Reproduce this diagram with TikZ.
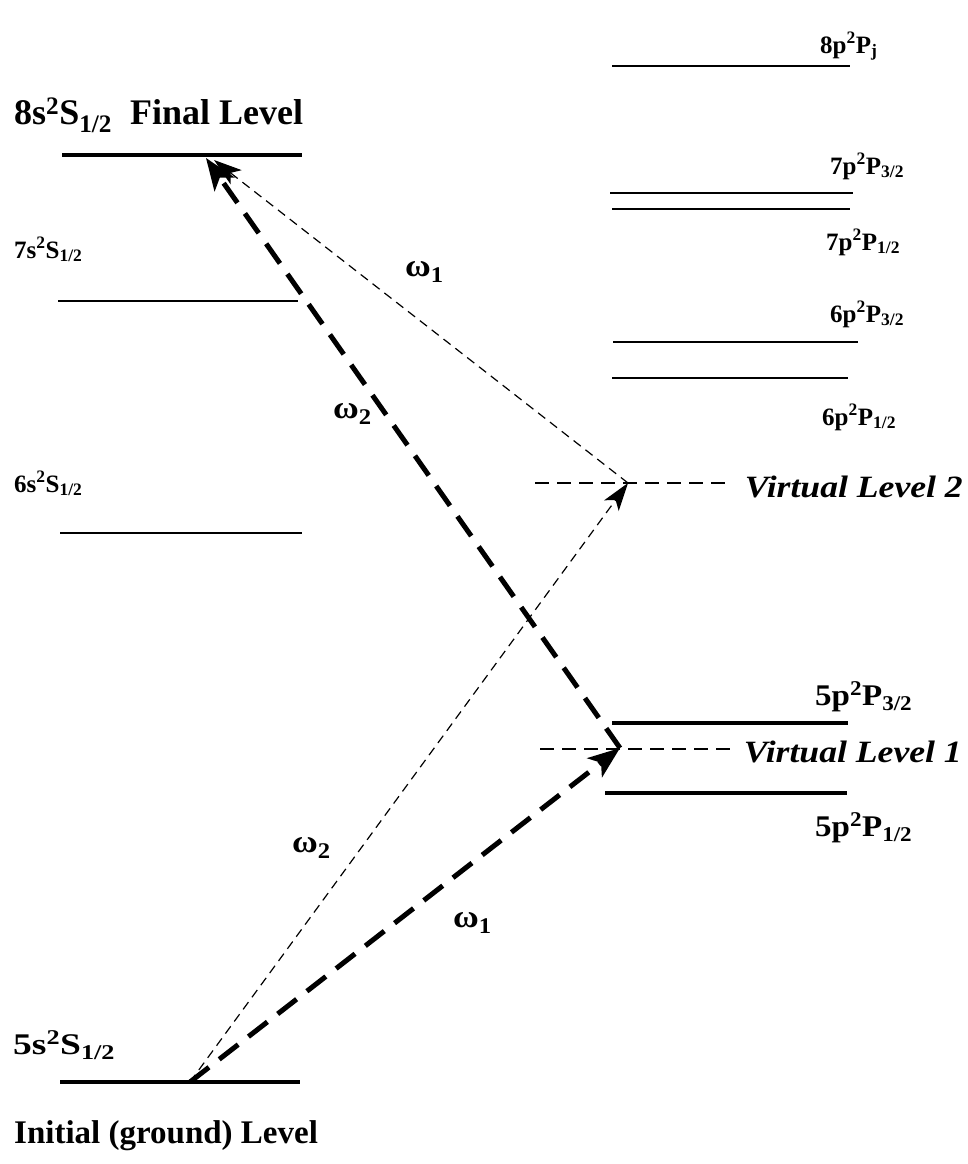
\documentclass[tikz,border=0pt]{standalone}
\usepackage{fontspec}
\setmainfont{Liberation Serif}
\newfontfamily\wideA[FakeStretch=1.25]{Liberation Serif}
\newfontfamily\wideB[FakeStretch=1.1]{Liberation Serif}
\newfontfamily\wideC[FakeStretch=1.15]{Liberation Serif}
\usetikzlibrary{arrows.meta}
\newcommand{\lvl}[4]{#1\textsuperscript{#2}#3\textsubscript{#4}}
\begin{document}
\begin{tikzpicture}[x=1pt,y=-1pt,
  thicklevel/.style={line width=4.5pt},
  thinlevel/.style={line width=1.3pt},
  virt/.style={line width=1.2pt, dash pattern=on 14pt off 8pt},
  bigbeam/.style={line width=5pt, dash pattern=on 24pt off 13pt, -{Stealth[length=32pt,width=24pt,inset=8pt]}},
  smallbeam/.style={line width=1.2pt, dash pattern=on 9pt off 6pt, -{Stealth[length=28pt,width=18pt,inset=7pt]}},
  biglabel/.style={font=\fontsize{36}{40}\selectfont\bfseries, inner sep=0pt},
  initlabel/.style={font=\fontsize{33}{36}\selectfont\bfseries, inner sep=0pt},
  groundlabel/.style={font=\fontsize{30}{33}\selectfont\wideA\bfseries, inner sep=0pt},
  midlabel/.style={font=\fontsize{30}{33}\selectfont\wideB\bfseries, inner sep=0pt},
  smalllabel/.style={font=\fontsize{25}{28}\selectfont\bfseries, inner sep=0pt},
  virtlabel/.style={font=\fontsize{31}{34}\selectfont\wideC\bfseries\itshape, inner sep=0pt},
  omega/.style={font=\fontsize{32}{34}\selectfont\wideB\bfseries, inner sep=0pt}]
\useasboundingbox (0,0) rectangle (968,1164);
% S levels
\draw[thicklevel] (62,155) -- (302,155);
\draw[thinlevel] (58,301) -- (298,301);
\draw[thinlevel] (60,533) -- (302,533);
\draw[thicklevel] (60,1082) -- (300,1082);
% P levels
\draw[thinlevel] (612,66) -- (850,66);
\draw[thinlevel] (610,193) -- (853,193);
\draw[thinlevel] (612,209) -- (850,209);
\draw[thinlevel] (613,342) -- (858,342);
\draw[thinlevel] (612,378) -- (848,378);
\draw[thicklevel] (612,723) -- (848,723);
\draw[thicklevel] (605,793) -- (847,793);
% virtual levels
\draw[virt] (535,483) -- (725,483);
\draw[virt] (540,749) -- (730,749);
% labels
\node[biglabel, anchor=base west] (lf) at (14,124) {\lvl{8s}{2}{S}{1/2}\hspace{0.5em}Final Level};
\node[smalllabel, anchor=base west] (l7s) at (14,258) {\lvl{7s}{2}{S}{1/2}};
\node[smalllabel, anchor=base west] (l6s) at (14,492) {\lvl{6s}{2}{S}{1/2}};
\node[groundlabel, anchor=base west] (l5s) at (13,1054) {\lvl{5s}{2}{S}{1/2}};
\node[initlabel, anchor=base west] (lini) at (14,1143) {Initial (ground) Level};
\node[smalllabel, anchor=base west] (l8p) at (820,53) {\lvl{8p}{2}{P}{j}};
\node[smalllabel, anchor=base west] (l7p3) at (830,174) {\lvl{7p}{2}{P}{3/2}};
\node[smalllabel, anchor=base west] (l7p1) at (826,250) {\lvl{7p}{2}{P}{1/2}};
\node[smalllabel, anchor=base west] (l6p3) at (830,322) {\lvl{6p}{2}{P}{3/2}};
\node[smalllabel, anchor=base west] (l6p1) at (822,425) {\lvl{6p}{2}{P}{1/2}};
\node[midlabel, anchor=base west] (l5p3) at (815,705) {\lvl{5p}{2}{P}{3/2}};
\node[midlabel, anchor=base west] (l5p1) at (815,836) {\lvl{5p}{2}{P}{1/2}};
\node[virtlabel, anchor=base east] (lv2) at (963,497) {Virtual Level 2};
\node[virtlabel, anchor=base east] (lv1) at (962,762) {Virtual Level 1};
% transition points
\coordinate (g) at (190,1082);
\coordinate (v1) at (620,748);
\coordinate (v2) at (628,483);
\coordinate (f) at (206,158);
\coordinate (f2) at (214,160);
% beams
\draw[bigbeam] (g) -- (v1);
\draw[bigbeam] (v1) -- (f);
\draw[smallbeam] (g) -- (v2);
\draw[smallbeam] (v2) -- (f2);
% omega labels
\node[omega, anchor=base west] (o1a) at (405,276) {ω\textsubscript{1}};
\node[omega, anchor=base west] (o2a) at (333,418) {ω\textsubscript{2}};
\node[omega, anchor=base west] (o2b) at (292,852) {ω\textsubscript{2}};
\node[omega, anchor=base west] (o1b) at (453,927) {ω\textsubscript{1}};
\end{tikzpicture}
\end{document}
